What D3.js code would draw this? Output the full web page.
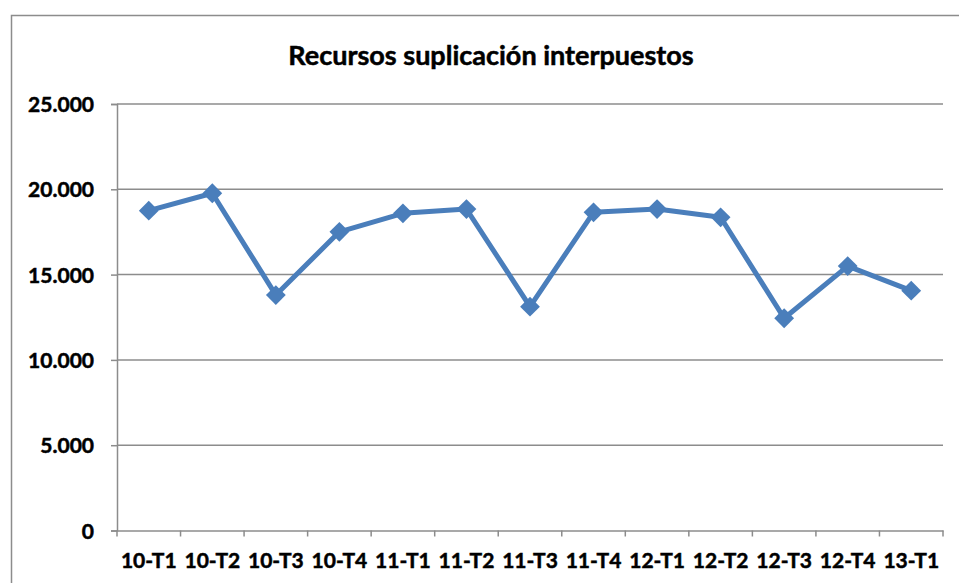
<!DOCTYPE html>
<html lang="es">
<head>
    <meta charset="UTF-8">
    <title>Recursos suplicación interpuestos</title>
    <script src="https://cdn.jsdelivr.net/npm/d3@7"></script>
    <style>
        html, body {
            margin: 0;
            padding: 0;
            background: #fff;
        }
        text {
            font-family: Lato, "Open Sans", sans-serif;
            font-weight: bold;
            fill: #000;
            stroke: #000;
            stroke-width: 0.5px;
        }
    </style>
</head>
<body>
<svg id="chart" width="959" height="583"></svg>

<script>
    // datos trimestrales
    const periodos = ["10-T1", "10-T2", "10-T3", "10-T4", "11-T1", "11-T2", "11-T3",
        "11-T4", "12-T1", "12-T2", "12-T3", "12-T4", "13-T1"];
    const recursos = [18750, 19770, 13800, 17510, 18590, 18840, 13120,
        18650, 18840, 18360, 12440, 15500, 14060];
    const yTicks = [0, 5000, 10000, 15000, 20000, 25000];
    const titulo = "Recursos suplicación interpuestos";

    const es = d3.formatLocale({decimal: ",", thousands: ".", grouping: [3], currency: ["", " €"]});
    const fmt = es.format(",");

    const svg = d3.select("#chart");
    const mLeft = 117, mRight = 943, mTop = 104, mBottom = 530.5;
    const gris = "#8c8c8c";

    // marco del gráfico (se sale por la derecha y abajo)
    svg.append("rect")
        .attr("x", 11.5).attr("y", 15.5)
        .attr("width", 1000).attr("height", 1000)
        .attr("fill", "none")
        .attr("stroke", gris)
        .attr("stroke-width", 1.5);

    const x = d3.scaleBand().domain(periodos).range([mLeft, mRight]);
    const y = d3.scaleLinear().domain([0, 25000]).range([mBottom, mTop]);

    // lineas de cuadricula
    svg.append("g")
        .selectAll("line")
        .data(yTicks.filter(d => d > 0))
        .enter().append("line")
        .attr("x1", mLeft).attr("x2", mRight)
        .attr("y1", d => y(d)).attr("y2", d => y(d))
        .attr("stroke", gris)
        .attr("stroke-width", 1.5);

    // eje Y
    const yAxis = svg.append("g")
        .attr("transform", `translate(${mLeft},0)`)
        .call(d3.axisLeft(y).tickValues(yTicks).tickFormat(fmt).tickSize(6).tickPadding(17));
    yAxis.select(".domain").attr("stroke", gris).attr("stroke-width", 1.5);
    yAxis.selectAll(".tick line").attr("stroke", gris).attr("stroke-width", 1.5);
    yAxis.selectAll("text").style("font-size", "21px").attr("dy", "0.36em");

    // eje X
    const xAxis = svg.append("g")
        .attr("transform", `translate(0,${mBottom})`)
        .call(d3.axisBottom(x).tickSize(0).tickPadding(23));
    xAxis.select(".domain").attr("stroke", gris).attr("stroke-width", 1.5);
    xAxis.selectAll("text").style("font-size", "21px");

    // marcas entre categorias
    xAxis.append("g")
        .selectAll("line")
        .data(d3.range(periodos.length + 1))
        .enter().append("line")
        .attr("x1", i => mLeft + i * x.step())
        .attr("x2", i => mLeft + i * x.step())
        .attr("y1", 0).attr("y2", 6)
        .attr("stroke", gris)
        .attr("stroke-width", 1.5);

    // serie
    const cx = d => x(d.p) + x.bandwidth() / 2;
    const datos = periodos.map((p, i) => ({p: p, v: recursos[i]}));

    svg.append("path")
        .datum(datos)
        .attr("fill", "none")
        .attr("stroke", "#4a7ebb")
        .attr("stroke-width", 5)
        .attr("stroke-linejoin", "round")
        .attr("d", d3.line().x(cx).y(d => y(d.v)));

    svg.append("g")
        .selectAll("path")
        .data(datos)
        .enter().append("path")
        .attr("transform", d => `translate(${cx(d)},${y(d.v)})`)
        .attr("d", d3.symbol(d3.symbolDiamond2, 250))
        .attr("fill", "#4a7ebb");

    // titulo
    svg.append("text")
        .attr("x", 491)
        .attr("y", 65)
        .attr("text-anchor", "middle")
        .style("font-size", "27px")
        .text(titulo);
</script>
</body>
</html>
